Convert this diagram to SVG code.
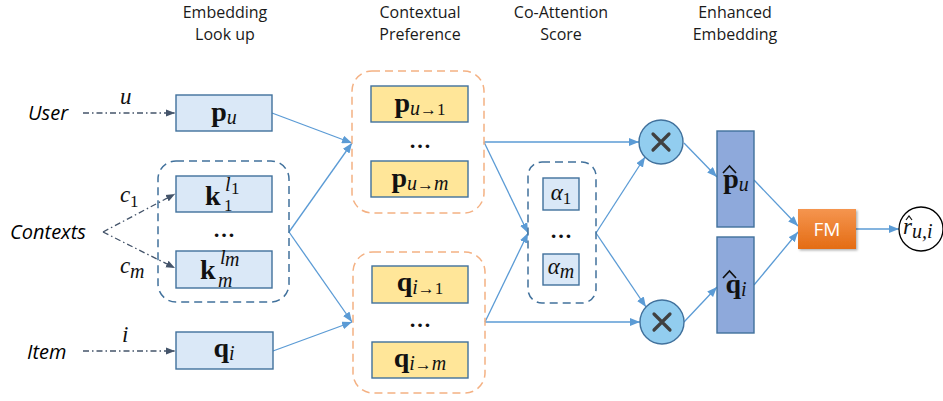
<svg xmlns="http://www.w3.org/2000/svg" width="943" height="401" viewBox="0 0 943 401">
<style>
.title{font-family:"Open Sans","Liberation Sans",sans-serif;font-size:16px;fill:#1a1a1a;text-anchor:middle}
.lbl{font-family:"Open Sans","Liberation Sans",sans-serif;font-style:italic;font-size:20px;fill:#000}
.m{font-family:"Liberation Serif","DejaVu Serif",serif;fill:#111}
.b{font-weight:bold;font-style:normal;font-size:28px}
.i{font-style:italic;font-size:23px}
.s{font-style:italic;font-size:20px}
.ss{font-style:normal;font-size:17px}
.dots{font-family:"Liberation Serif",serif;font-size:22px;font-weight:bold;text-anchor:middle;fill:#111}
.box{fill:#DAE8F7;stroke:#41719C;stroke-width:1.4}
.ybox{fill:#FFE699;stroke:#41719C;stroke-width:1.4}
.ebox{fill:#8EA9DB;stroke:#41719C;stroke-width:1.4}
.og{fill:none;stroke:#F4B183;stroke-width:1.5;stroke-dasharray:8 5}
.bg{fill:none;stroke:#41719C;stroke-width:1.5;stroke-dasharray:8 5}
.con{stroke:#5B9BD5;stroke-width:1.3;fill:none;marker-end:url(#ab)}
.dd{stroke:#44546A;stroke-width:1.3;fill:none;stroke-dasharray:6 3 1.5 3;marker-end:url(#ad)}
.mul{fill:#92CDEF;stroke:#41719C;stroke-width:1.4}
.hat{stroke:#111;stroke-width:1.7;fill:none}
</style>
<defs>
<marker id="ab" viewBox="0 0 10 8" refX="10" refY="4" markerWidth="10" markerHeight="8" markerUnits="userSpaceOnUse" orient="auto"><path d="M0,0 L10,4 L0,8 z" fill="#5B9BD5"/></marker>
<marker id="ad" viewBox="0 0 10 8" refX="10" refY="4" markerWidth="9" markerHeight="8" markerUnits="userSpaceOnUse" orient="auto"><path d="M0,0 L10,4 L0,8 z" fill="#44546A"/></marker>
<linearGradient id="fmg" x1="0" y1="0" x2="0" y2="1"><stop offset="0" stop-color="#F5954F"/><stop offset="1" stop-color="#E46C14"/></linearGradient>
<filter id="sh" x="-20%" y="-20%" width="150%" height="150%"><feDropShadow dx="1.5" dy="1.5" stdDeviation="1.2" flood-color="#000" flood-opacity="0.3"/></filter>
</defs>

<g id="titles">
<text class="title" x="225" y="18">Embedding</text>
<text class="title" x="225" y="40">Look up</text>
<text class="title" x="420" y="18">Contextual</text>
<text class="title" x="420" y="40">Preference</text>
<text class="title" x="561" y="18">Co-Attention</text>
<text class="title" x="561" y="40">Score</text>
<text class="title" x="735" y="18">Enhanced</text>
<text class="title" x="735" y="40">Embedding</text>
</g>

<g id="connectors">
<line class="dd" x1="83" y1="113" x2="175" y2="113"/>
<line class="dd" x1="103" y1="232" x2="175" y2="194"/>
<line class="dd" x1="103" y1="232" x2="175" y2="268"/>
<line class="dd" x1="83" y1="351" x2="175" y2="351"/>
<line class="con" x1="272" y1="113" x2="352" y2="143"/>
<line class="con" x1="289" y1="232" x2="352" y2="143"/>
<line class="con" x1="289" y1="232" x2="352" y2="322"/>
<line class="con" x1="273" y1="351" x2="352" y2="322"/>
<line class="con" x1="484" y1="142" x2="639" y2="142"/>
<line class="con" x1="484" y1="142" x2="528" y2="233"/>
<line class="con" x1="485" y1="322" x2="528" y2="233"/>
<line class="con" x1="485" y1="322" x2="640" y2="322"/>
<line class="con" x1="596" y1="233" x2="645" y2="157"/>
<line class="con" x1="596" y1="233" x2="646" y2="307"/>
<line class="con" x1="684" y1="143" x2="717" y2="177"/>
<line class="con" x1="684" y1="322" x2="717" y2="287"/>
<line class="con" x1="754" y1="180" x2="798" y2="226"/>
<line class="con" x1="754" y1="285" x2="798" y2="232"/>
<line class="con" x1="856" y1="229" x2="899" y2="229"/>
</g>

<g id="user">
<text class="lbl" x="28" y="120">User</text>
<text class="m i" x="120" y="104">u</text>
</g>
<g id="contexts">
<text class="lbl" x="10" y="239">Contexts</text>
<text class="m i" x="120" y="202">c</text><text class="m ss" x="130" y="207">1</text>
<text class="m i" x="120" y="273">c</text><text class="m s" x="130" y="278">m</text>
</g>
<g id="item">
<text class="lbl" x="27" y="359">Item</text>
<text class="m i" x="122" y="342">i</text>
</g>

<g id="pu">
<rect class="box" x="176" y="95" width="96" height="36"/>
<text class="m" x="224" y="121" text-anchor="middle"><tspan class="b">p</tspan><tspan class="s" dy="3">u</tspan></text>
</g>

<g id="ctxgroup">
<rect class="bg" x="158" y="161" width="131" height="141" rx="18"/>
</g>
<g id="k1">
<rect class="box" x="176" y="176" width="96" height="36"/>
<text class="m b" x="205" y="205">k</text>
<text class="m s" x="225" y="191" font-size="16">l</text><text class="m ss" x="231" y="194" font-size="12">1</text>
<text class="m ss" x="224" y="211" font-size="16">1</text>
</g>
<text class="dots" x="224" y="237">…</text>
<g id="km">
<rect class="box" x="176" y="251" width="96" height="37"/>
<text class="m b" x="200" y="279">k</text>
<text class="m s" x="220" y="264" font-size="16">l</text><text class="m s" x="225" y="266" font-size="13">m</text>
<text class="m s" x="218" y="287" font-size="17">m</text>
</g>

<g id="qi">
<rect class="box" x="176" y="332" width="97" height="37"/>
<text class="m" x="224" y="357" text-anchor="middle"><tspan class="b">q</tspan><tspan class="s" dy="3">i</tspan></text>
</g>

<g id="pgroup">
<rect class="og" x="352" y="71" width="132" height="142" rx="20"/>
</g>
<g id="pu1">
<rect class="ybox" x="371" y="86" width="97" height="36"/>
<text class="m" x="420" y="112" text-anchor="middle"><tspan class="b">p</tspan><tspan class="s" dy="3">u</tspan><tspan class="ss" font-size="14">→</tspan><tspan class="ss">1</tspan></text>
</g>
<text class="dots" x="420" y="148">…</text>
<g id="pum">
<rect class="ybox" x="371" y="161" width="97" height="36"/>
<text class="m" x="420" y="187" text-anchor="middle"><tspan class="b">p</tspan><tspan class="s" dy="3">u</tspan><tspan class="ss" font-size="14">→</tspan><tspan class="s">m</tspan></text>
</g>

<g id="qgroup">
<rect class="og" x="353" y="252" width="132" height="141" rx="20"/>
</g>
<g id="qi1">
<rect class="ybox" x="372" y="266" width="96" height="37"/>
<text class="m" x="420" y="291" text-anchor="middle"><tspan class="b">q</tspan><tspan class="s" dy="3">i</tspan><tspan class="ss" font-size="14">→</tspan><tspan class="ss">1</tspan></text>
</g>
<text class="dots" x="420" y="327">…</text>
<g id="qim">
<rect class="ybox" x="372" y="342" width="96" height="36"/>
<text class="m" x="420" y="367" text-anchor="middle"><tspan class="b">q</tspan><tspan class="s" dy="3">i</tspan><tspan class="ss" font-size="14">→</tspan><tspan class="s">m</tspan></text>
</g>

<g id="attgroup">
<rect class="bg" x="528" y="162" width="68" height="141" rx="14"/>
</g>
<g id="a1">
<rect class="box" x="543" y="178" width="36" height="32"/>
<text class="m" x="561" y="200" text-anchor="middle"><tspan class="i">α</tspan><tspan class="ss" dy="4" font-size="15">1</tspan></text>
</g>
<text class="dots" x="561" y="238">…</text>
<g id="am">
<rect class="box" x="543" y="254" width="36" height="31"/>
<text class="m" x="561" y="274" text-anchor="middle"><tspan class="i">α</tspan><tspan class="s" dy="4" font-size="16">m</tspan></text>
</g>

<g id="mul1">
<circle class="mul" cx="661" cy="142" r="22"/>
<path d="M653,134 L669,150 M669,134 L653,150" stroke="#404040" stroke-width="3.2" stroke-linecap="round"/>
</g>
<g id="mul2">
<circle class="mul" cx="662" cy="322" r="22"/>
<path d="M654,314 L670,330 M670,314 L654,330" stroke="#404040" stroke-width="3.2" stroke-linecap="round"/>
</g>

<g id="phat">
<rect class="ebox" x="717" y="131" width="37" height="96"/>
<text class="m" x="736" y="188" text-anchor="middle"><tspan class="b">p</tspan><tspan class="s" dy="3">u</tspan></text>
<path class="hat" d="M723,173 L729.5,166 L736,173"/>
</g>
<g id="qhat">
<rect class="ebox" x="717" y="237" width="37" height="96"/>
<text class="m" x="736" y="293" text-anchor="middle"><tspan class="b">q</tspan><tspan class="s" dy="3">i</tspan></text>
<path class="hat" d="M723,278 L729.5,271 L736,278"/>
</g>

<g id="fm">
<rect x="798" y="209" width="58" height="40" fill="url(#fmg)" filter="url(#sh)"/>
<text x="827" y="236" text-anchor="middle" font-family="'Open Sans','Liberation Sans',sans-serif" font-size="19" fill="#fff">FM</text>
</g>

<g id="out">
<circle cx="921" cy="229" r="22" fill="#fff" stroke="#000" stroke-width="1.3"/>
<text class="m" x="903" y="234"><tspan class="i" font-size="22">r</tspan><tspan class="s" dy="4" font-size="16">u,i</tspan></text>
<path d="M906,220 L909,216 L912,220" stroke="#111" stroke-width="1.2" fill="none"/>
</g>
</svg>
